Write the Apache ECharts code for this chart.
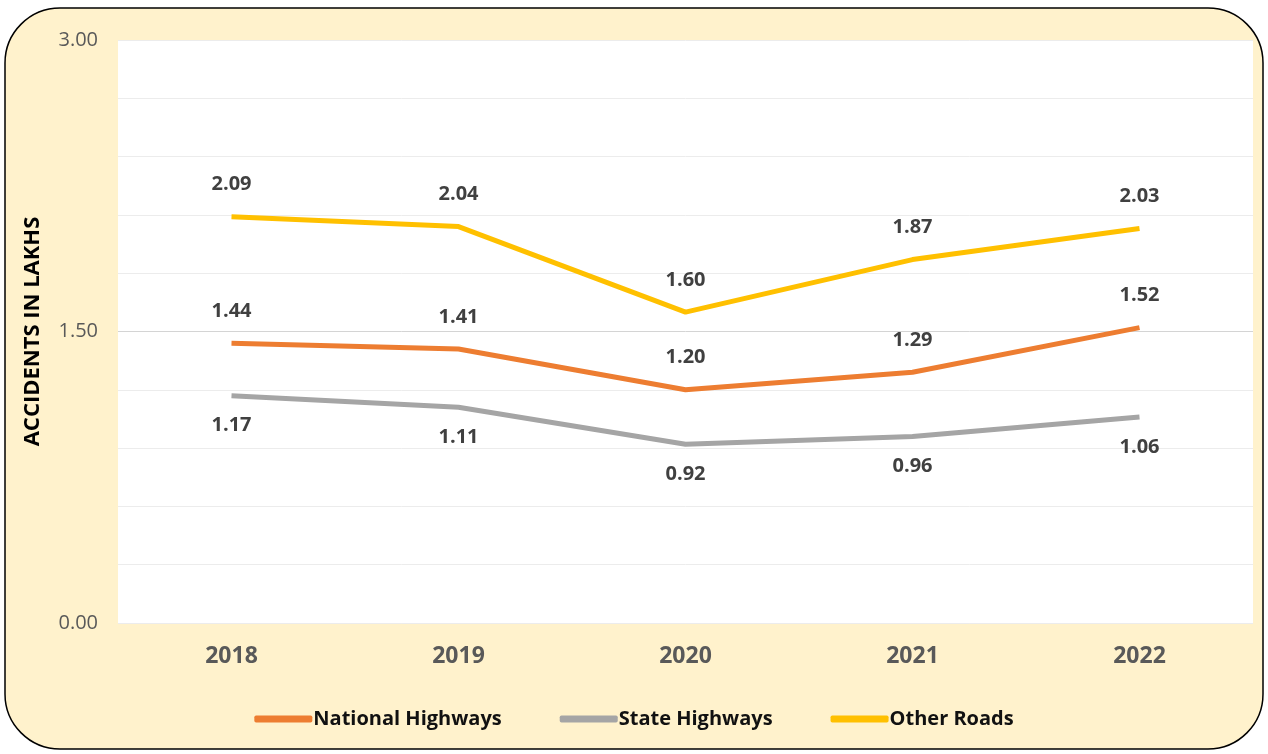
<!DOCTYPE html>
<html><head><meta charset="utf-8">
<script src="https://cdn.jsdelivr.net/npm/echarts@6/dist/echarts.min.js"></script>
<style>html,body{margin:0;padding:0;background:#fff}#c{width:1268px;height:754px}</style>
</head><body><div id="c"></div>
<script>
const years = ['2018','2019','2020','2021','2022'];
const nationalHighways = [1.44, 1.41, 1.20, 1.29, 1.52];
const stateHighways = [1.17, 1.11, 0.92, 0.96, 1.06];
const otherRoads = [2.09, 2.04, 1.60, 1.87, 2.03];
const yTickLabels = [0, 1.5, 3];

const chart = echarts.init(document.getElementById('c'));
const font = '"Open Sans", "Liberation Sans", sans-serif';
const gridColors = [];
for (let i = 0; i <= 10; i++) gridColors.push(i === 5 ? '#d4d4d4' : '#ececec');
const lbl = (pos, dist) => ({show: true, position: pos, distance: dist, fontFamily: font, fontWeight: 'bold', fontSize: 20, color: '#404040', formatter: p => p.value.toFixed(2)});
const mk = (name, data, color, pos, dist) => ({
  name, type: 'line', data, symbol: 'circle', symbolSize: 0.1, showSymbol: true, smooth: false,
  lineStyle: {color, width: 5}, itemStyle: {color},
  label: lbl(pos, dist)
});
chart.setOption({
  animation: false,
  graphic: [{type: 'rect', z: -10, shape: {x: 5, y: 8, width: 1258, height: 741, r: 55},
    style: {fill: '#FFF2CC', stroke: '#000', lineWidth: 1.5}}],
  grid: {left: 118, right: 15, top: 40, bottom: 131, show: true, backgroundColor: '#ffffff', borderWidth: 0},
  legend: {bottom: 20, left: 'center', itemWidth: 58, itemHeight: 7, itemGap: 58, icon: 'roundRect',
    textStyle: {fontFamily: font, fontSize: 20, color: '#111', fontWeight: 'bold', padding: [0,0,0,-4]},
    data: ['National Highways', 'State Highways', 'Other Roads']},
  xAxis: {type: 'category', data: years, boundaryGap: true,
    axisLine: {show: false}, axisTick: {show: false},
    axisLabel: {fontFamily: font, fontSize: 23, fontWeight: 'bold', color: '#595959', margin: 22}},
  yAxis: {type: 'value', min: 0, max: 3, interval: 0.3,
    name: 'ACCIDENTS IN LAKHS', nameLocation: 'middle', nameGap: 74, nameRotate: 90,
    nameTextStyle: {fontFamily: font, fontSize: 22, fontWeight: 'bold', color: '#000'},
    axisLine: {show: false}, axisTick: {show: false},
    axisLabel: {fontFamily: font, fontSize: 20, color: '#595959', margin: 20,
      formatter: v => yTickLabels.some(t => Math.abs(t - v) < 1e-6) ? v.toFixed(2) : ''},
    splitLine: {lineStyle: {color: gridColors, width: 1}}},
  series: [
    mk('National Highways', nationalHighways, '#ED7D31', 'top', 22),
    mk('State Highways', stateHighways, '#A5A5A5', 'bottom', 20),
    mk('Other Roads', otherRoads, '#FFC000', 'top', 22)
  ]
});
</script></body></html>
